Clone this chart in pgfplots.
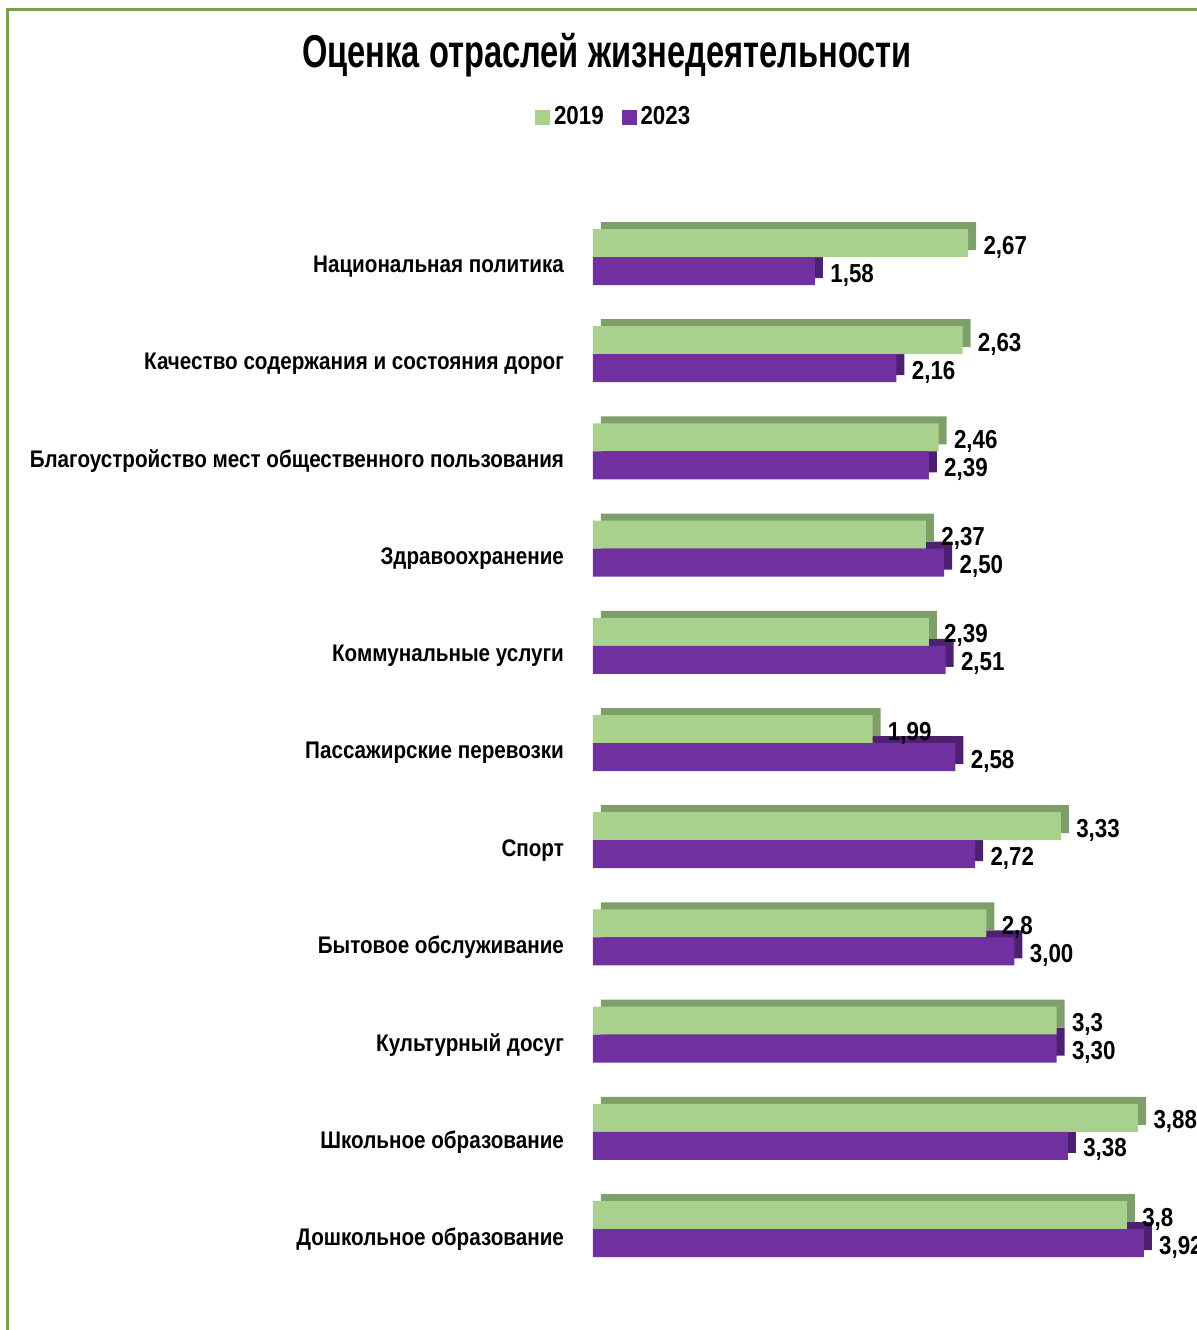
\documentclass[border=0pt]{standalone}
\usepackage{fontspec}
\setmainfont{Liberation Sans}[FakeStretch=0.86]
\newfontfamily\titlefont{Liberation Sans}[FakeStretch=0.71]
\usepackage{pgfplots}
\usepackage{pgfplotstable}
\pgfplotsset{compat=1.18}

\definecolor{gfront}{HTML}{A9D18E}
\definecolor{gdark}{HTML}{7E9E6A}
\definecolor{pfront}{HTML}{7030A0}
\definecolor{pdark}{HTML}{4D2070}
\definecolor{frame}{HTML}{77A053}

% y: 10 = top category
\pgfplotstableread{
y  v19  l19  v23  l23
10 2.67 2,67 1.58 1,58
9  2.63 2,63 2.16 2,16
8  2.46 2,46 2.39 2,39
7  2.37 2,37 2.50 2,50
6  2.39 2,39 2.51 2,51
5  1.99 1,99 2.58 2,58
4  3.33 3,33 2.72 2,72
3  2.80 2,8  3.00 3,00
2  3.30 3,3  3.30 3,30
1  3.88 3,88 3.38 3,38
0  3.80 3,8  3.92 3,92
}\scores

\begin{document}
\begin{tikzpicture}
\useasboundingbox (0,0) rectangle (598.5pt,-665pt);
\clip (0,0) rectangle (598.5pt,-665pt);
\draw[frame, line width=1.2pt] (3.8pt,-700pt) -- (3.8pt,-4.8pt) -- (620pt,-4.8pt);
\node[font=\titlefont\bfseries\fontsize{23}{26}\selectfont] at (303.5pt,-27.5pt) {Оценка отраслей жизнедеятельности};
\begin{axis}[
    at={(296.5pt,-614.5pt)}, anchor=origin,
    x=70.25pt, y=48.6pt,
    xmin=0, xmax=4.3, ymin=-0.6, ymax=10.6,
    xbar, bar width=14pt,
    clip=false,
    axis line style={draw=none},
    major tick length=0pt,
    xtick=\empty,
    ytick={0,...,10},
    yticklabels={Дошкольное образование, Школьное образование, Культурный досуг,
        Бытовое обслуживание, Спорт, Пассажирские перевозки, Коммунальные услуги,
        Здравоохранение, Благоустройство мест общественного пользования,
        Качество содержания и состояния дорог, Национальная политика},
    yticklabel style={font=\bfseries\fontsize{12}{14}\selectfont, xshift=-11pt, yshift=-5pt},
    legend style={at={(0.036,1.075)}, anchor=center, draw=none, fill=none,
        font=\bfseries\fontsize{13}{15}\selectfont, inner sep=0pt,
        /tikz/every even column/.append style={column sep=7pt}},
    legend columns=2,
    nodes near coords style={font=\bfseries\fontsize{13}{15}\selectfont, anchor=west,
        xshift=6pt, yshift=-2pt, inner sep=1.5pt, text=black},
]
\addlegendimage{legend image code/.code={\fill[gfront] (0pt,-3.5pt) rectangle (7pt,3.5pt);}}
\addlegendentry{2019}
\addlegendimage{legend image code/.code={\fill[pfront] (0pt,-3.5pt) rectangle (7pt,3.5pt);}}
\addlegendentry{2023}
% depth faces (shifted copies drawn behind)
\addplot[forget plot, fill=pdark, draw=none, bar shift=-3.5pt, xshift=4pt]
    table[x=v23, y=y] {\scores};
\addplot[forget plot, fill=gdark, draw=none, bar shift=10.5pt, xshift=4pt]
    table[x=v19, y=y] {\scores};
% front faces
\addplot[forget plot, fill=gfront, draw=none, bar shift=7pt,
    nodes near coords, point meta=explicit symbolic]
    table[x=v19, y=y, meta=l19] {\scores};
\addplot[forget plot, fill=pfront, draw=none, bar shift=-7pt,
    nodes near coords, point meta=explicit symbolic]
    table[x=v23, y=y, meta=l23] {\scores};
\end{axis}
\end{tikzpicture}
\end{document}
